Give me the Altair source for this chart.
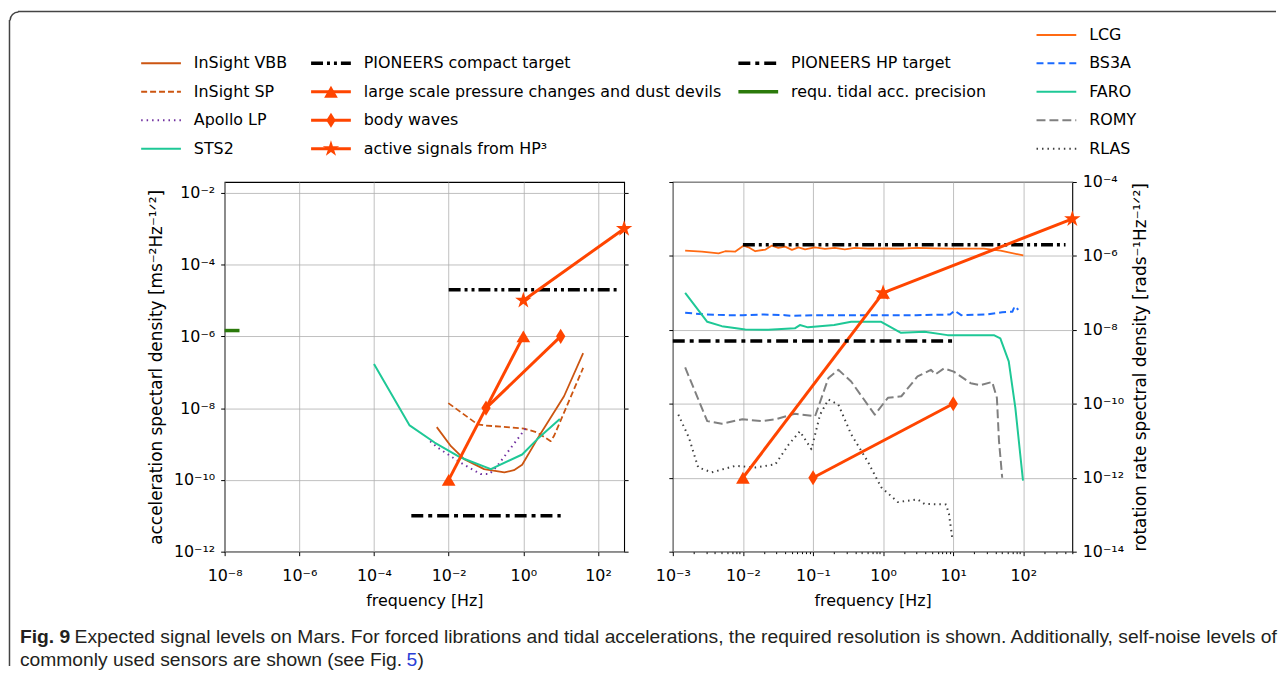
import math
import altair as alt
import pandas as pd

# ---------------- data ----------------
# left panel: acceleration spectral density
VBB_F = [0.0048, 0.0115, 0.026, 0.089, 0.31, 0.56, 0.93, 2.34, 12.3, 40.0]
VBB_A = [2.95e-9, 8.7e-10, 3.8e-10, 2.0e-10, 1.62e-10, 1.86e-10, 2.63e-10, 1.35e-9, 2.14e-8, 3.4e-7]
SP_F = [0.0098, 0.059, 0.089, 1.05, 2.34, 5.4, 6.6, 40.0]
SP_A = [1.38e-8, 3.55e-9, 3.3e-9, 2.7e-9, 2.1e-9, 1.2e-9, 1.66e-9, 1.32e-7]
APOLLO_F = [0.0032, 0.0051, 0.021, 0.072, 0.123, 0.2, 0.69, 1.29]
APOLLO_A = [1.2e-9, 7.9e-10, 3.0e-10, 1.45e-10, 1.45e-10, 2.45e-10, 1.35e-9, 3.2e-9]
STS2_F = [1e-4, 9e-4, 4.2e-3, 0.021, 0.135, 0.93, 2.34, 9.5]
STS2_A = [1.7e-7, 3.3e-9, 1.1e-9, 4.2e-10, 2.0e-10, 5.1e-10, 1.35e-9, 5.0e-9]

PRESSURE_F = [0.01, 1.0]
PRESSURE_A = [1e-10, 1e-6]
PRESSURE_R = [1e-12, 1e-7]
BODY_F = [0.1, 10.0]
BODY_A = [1e-8, 1e-6]
BODY_R = [1e-12, 1e-10]
HP3_F = [1.0, 500.0]
HP3_A = [1e-5, 1e-3]
HP3_R = [1e-7, 1e-5]
COMPACT_F = [0.01, 400.0]
COMPACT_A = [2e-5, 2e-5]
COMPACT_R = [2e-6, 2e-6]
HPT_F = [1e-3, 10.0]
HPT_A = [1e-11, 1e-11]
HPT_R = [5e-9, 5e-9]
TIDAL_F = [1e-8, 2.5e-8]
TIDAL_A = [1.45e-6, 1.45e-6]

# right panel: rotation rate spectral density
LCG_F = [0.0015, 0.0026, 0.0045, 0.0056, 0.0078, 0.0103, 0.012, 0.015, 0.021, 0.026,
         0.032, 0.04, 0.05, 0.062, 0.077, 0.107, 0.148, 0.205, 0.284, 0.394,
         0.607, 1.05, 1.81, 3.1, 5.36, 9.25, 27.4, 47.3, 100.0]
LCG_R = [1.40e-6, 1.31e-6, 1.18e-6, 1.34e-6, 1.31e-6, 1.91e-6, 1.71e-6, 1.34e-6, 1.49e-6, 1.91e-6,
         1.65e-6, 1.79e-6, 1.46e-6, 1.71e-6, 1.51e-6, 1.71e-6, 1.55e-6, 1.65e-6, 1.51e-6, 1.65e-6,
         1.58e-6, 1.61e-6, 1.58e-6, 1.65e-6, 1.61e-6, 1.58e-6, 1.58e-6, 1.40e-6, 1.03e-6]
BS3A_F = [0.0015, 0.003, 0.006, 0.01, 0.02, 0.04, 0.05, 0.1, 0.2, 0.5,
          1.0, 3.0, 9.0, 10.5, 13.0, 30.0, 50.0, 70.0, 75.0, 85.0]
BS3A_R = [2.9e-8, 2.6e-8, 2.5e-8, 2.5e-8, 2.6e-8, 2.5e-8, 2.4e-8, 2.5e-8, 2.5e-8, 2.5e-8,
          2.5e-8, 2.5e-8, 2.6e-8, 3.3e-8, 2.5e-8, 2.6e-8, 3.0e-8, 3.1e-8, 4.3e-8, 3.5e-8]
FARO_F = [0.0015, 0.0031, 0.005, 0.0108, 0.023, 0.055, 0.065, 0.085, 0.2, 0.35,
          0.94, 1.8, 3.9, 8.3, 38.0, 47.0, 62.0, 77.0, 99.0]
FARO_R = [1e-7, 1.65e-8, 1.26e-8, 1.02e-8, 1.0e-8, 1.1e-8, 1.35e-8, 1.17e-8, 1.35e-8, 1.65e-8,
          1.65e-8, 8.3e-9, 8.9e-9, 7.2e-9, 7.2e-9, 5.9e-9, 1.4e-9, 7.8e-11, 8.3e-13]
ROMY_F = [0.0015, 0.0031, 0.005, 0.0098, 0.0186, 0.029, 0.055, 0.107, 0.166, 0.23,
          0.35, 0.76, 1.17, 1.82, 3.1, 4.8, 5.6, 7.4, 10.2, 17.8,
          24.5, 36.0, 42.0, 45.0, 50.0]
ROMY_R = [9.6e-10, 3.4e-11, 2.9e-11, 3.8e-11, 3.4e-11, 3.8e-11, 5.4e-11, 4.6e-11, 5e-10, 8.3e-10,
          4e-10, 5.1e-11, 1.45e-10, 1.6e-10, 5.5e-10, 8.3e-10, 6.3e-10, 9.1e-10, 7.4e-10, 3.6e-10,
          3.2e-10, 3.9e-10, 1.45e-10, 9.8e-12, 1e-12]
RLAS_F = [0.0012, 0.0017, 0.0023, 0.0036, 0.0078, 0.015, 0.029, 0.045, 0.065, 0.095,
          0.126, 0.166, 0.23, 0.35, 0.6, 0.94, 1.62, 3.1, 3.9, 7.9, 8.7, 9.8]
RLAS_R = [5.1e-11, 1.2e-11, 1.9e-12, 1.4e-12, 2.1e-12, 1.9e-12, 2.3e-12, 7.9e-12, 1.8e-11, 5.9e-12,
          5.1e-11, 1.3e-10, 9.5e-11, 1.5e-11, 2.8e-12, 5.5e-13, 2.2e-13, 2.6e-13, 1.95e-13, 1.9e-13,
          1.05e-13, 2e-14]

# axes
X_DOM_L = [1e-8, 500.0]
Y_DOM_L = [1e-12, 2e-2]
X_DOM_R = [1e-3, 500.0]
Y_DOM_R = [1e-14, 1e-4]
X_TICKS_L = [1e-8, 1e-6, 1e-4, 1e-2, 1.0, 100.0]
X_LABELS_L = ["10⁻⁸", "10⁻⁶", "10⁻⁴", "10⁻²", "10⁰", "10²"]
Y_TICKS_L = [1e-12, 1e-10, 1e-8, 1e-6, 1e-4, 1e-2]
Y_LABELS_L = ["10⁻¹²", "10⁻¹⁰", "10⁻⁸", "10⁻⁶", "10⁻⁴", "10⁻²"]
X_TICKS_R = [1e-3, 1e-2, 1e-1, 1.0, 10.0, 100.0]
X_LABELS_R = ["10⁻³", "10⁻²", "10⁻¹", "10⁰", "10¹", "10²"]
Y_TICKS_R = [1e-14, 1e-12, 1e-10, 1e-8, 1e-6, 1e-4]
Y_LABELS_R = ["10⁻¹⁴", "10⁻¹²", "10⁻¹⁰", "10⁻⁸", "10⁻⁶", "10⁻⁴"]
X_MINOR_R = [k * 10.0 ** e for e in range(-3, 3) for k in range(2, 10) if k * 10.0 ** e <= 500]

X_TITLE = "frequency [Hz]"
Y_TITLE_L = "acceleration spectarl density [ms⁻²Hz⁻¹ᐟ²]"
Y_TITLE_R = "rotation rate spectral density [rads⁻¹Hz⁻¹ᐟ²]"

CAP_BOLD = "Fig. 9"
CAP_LINE1 = ("Expected signal levels on Mars. For forced librations and tidal accelerations, "
             "the required resolution is shown. Additionally, self-noise levels of")
CAP_LINE2 = "commonly used sensors are shown (see Fig. "
CAP_LINK = "5"
CAP_END = ")"

# ---------------- styles ----------------
FONT = "DejaVu Sans"
CAP_FONT = "Liberation Sans"
CAP_SIZE = 19.4
C_VBB = "#cc5511"
C_APOLLO = "#7030a0"
C_TEAL = "#1ec896"
C_SIG = "#ff4500"
C_LCG = "#ff6a13"
C_BLUE = "#1a6aff"
C_ROMY = "#808080"
C_RLAS = "#404040"
C_TIDAL = "#2b7a0b"
STAR = "M0,-1L0.2245,-0.309L0.951,-0.309L0.363,0.118L0.588,0.809L0,0.382L-0.588,0.809L-0.363,0.118L-0.951,-0.309L-0.2245,-0.309Z"
THIN_DIAMOND = "M0,-1L0.62,0L0,1L-0.62,0Z"
MARKERS = {"tri": ("triangle-up", 190), "dia": (THIN_DIAMOND, 230), "star": (STAR, 300)}

W, H = 402, 372
SPACING = 49

xsL = alt.Scale(type="log", domain=X_DOM_L, nice=False)
ysL = alt.Scale(type="log", domain=Y_DOM_L, nice=False)
xsR = alt.Scale(type="log", domain=X_DOM_R, nice=False)
ysR = alt.Scale(type="log", domain=Y_DOM_R, nice=False)


def label_expr(ticks, labels):
    expr = "''"
    for t, lab in reversed(list(zip(ticks, labels))):
        expr = f"(abs(log(datum.value)/LN10 - ({round(math.log10(t))})) < 0.01 ? '{lab}' : {expr})"
    return expr


def line(f, v, xs, ys, color, width, dash=None):
    kw = dict(color=color, strokeWidth=width, clip=False, strokeJoin="round")
    if dash:
        kw["strokeDash"] = dash
    return alt.Chart(pd.DataFrame({"f": f, "v": v})).mark_line(**kw).encode(
        x=alt.X("f:Q", scale=xs, axis=None), y=alt.Y("v:Q", scale=ys, axis=None))


def pts(f, v, xs, ys, marker):
    shape, size = MARKERS[marker]
    return alt.Chart(pd.DataFrame({"f": f, "v": v})).mark_point(
        shape=shape, size=size, filled=True, opacity=1, color=C_SIG, clip=False).encode(
        x=alt.X("f:Q", scale=xs, axis=None), y=alt.Y("v:Q", scale=ys, axis=None))


def legend(entries, col_x, row_y):
    """entries: list of (label, col, row, color, width, dash, marker)."""
    layers = []
    for label, col, row, color, width, dash, marker in entries:
        x0 = col_x[col]
        y0 = row_y[row]
        df = pd.DataFrame({"label": [label]})
        kw = dict(color=color, strokeWidth=width)
        if dash:
            kw["strokeDash"] = dash
        layers.append(alt.Chart(df).mark_rule(**kw).encode(
            x=alt.value(x0), x2=alt.value(x0 + 40), y=alt.value(y0)))
        if marker:
            shape, size = MARKERS[marker]
            layers.append(alt.Chart(df).mark_point(shape=shape, size=size, filled=True,
                                                   opacity=1, color=C_SIG).encode(
                x=alt.value(x0 + 20), y=alt.value(y0)))
        layers.append(alt.Chart(df).mark_text(align="left", baseline="middle", font=FONT,
                                              fontSize=16, color="black").encode(
            x=alt.value(x0 + 53), y=alt.value(y0), text="label:N"))
    return layers


X_AXIS_KW = dict(grid=True, title=X_TITLE, titleX=W / 2, titleY=49, titleBaseline="middle",
                 titleAlign="center", labelPadding=12, titleFontSize=16)
Y_AXIS_KW = dict(grid=True, titleAngle=270, titleY=H / 2, titleBaseline="middle",
                 titleAlign="center", titleFontSize=17, labelPadding=6)

# ---------------- left panel ----------------
axis_df_L = pd.DataFrame({"f": [1e-3], "v": [1e-6]})
axL = alt.Chart(axis_df_L).mark_point(opacity=0).encode(
    x=alt.X("f:Q", scale=xsL, axis=alt.Axis(
        orient="bottom", values=X_TICKS_L, labelExpr=label_expr(X_TICKS_L, X_LABELS_L), **X_AXIS_KW)),
    y=alt.Y("v:Q", scale=ysL, axis=alt.Axis(
        orient="left", values=Y_TICKS_L, labelExpr=label_expr(Y_TICKS_L, Y_LABELS_L),
        title=Y_TITLE_L, titleX=-69, **Y_AXIS_KW)))
axL2 = alt.Chart(axis_df_L).mark_point(opacity=0).encode(
    x=alt.X("f:Q", scale=xsL, axis=None),
    y=alt.Y("v:Q", scale=ysL, axis=alt.Axis(orient="right", values=Y_TICKS_L, labels=False,
                                            grid=False, title=None)))

left_layers = [
    axL, axL2,
    line(VBB_F, VBB_A, xsL, ysL, C_VBB, 1.8),
    line(SP_F, SP_A, xsL, ysL, C_VBB, 1.8, [6, 3]),
    line(APOLLO_F, APOLLO_A, xsL, ysL, C_APOLLO, 2, [1.5, 4]),
    line(STS2_F, STS2_A, xsL, ysL, C_TEAL, 2),
    line(COMPACT_F, COMPACT_A, xsL, ysL, "black", 3.5, [12, 4, 3, 4, 3, 4]),
    line(PRESSURE_F, PRESSURE_A, xsL, ysL, C_SIG, 3),
    pts(PRESSURE_F, PRESSURE_A, xsL, ysL, "tri"),
    line(BODY_F, BODY_A, xsL, ysL, C_SIG, 3),
    pts(BODY_F, BODY_A, xsL, ysL, "dia"),
    line(HP3_F, HP3_A, xsL, ysL, C_SIG, 3),
    pts(HP3_F, HP3_A, xsL, ysL, "star"),
    line(HPT_F, HPT_A, xsL, ysL, "black", 3.5, [12, 5, 4, 5]),
    line(TIDAL_F, TIDAL_A, xsL, ysL, C_TIDAL, 3.5),
]

LEG_L_COLS = [-84, 87, 517]
LEG_ROWS = [-148, -119.5, -90.8, -62.1, -33.4]
left_legend = [
    ("InSight VBB", 0, 1, C_VBB, 2, None, None),
    ("InSight SP", 0, 2, C_VBB, 2, [6, 3], None),
    ("Apollo LP", 0, 3, C_APOLLO, 2, [1.5, 4], None),
    ("STS2", 0, 4, C_TEAL, 2, None, None),
    ("PIONEERS compact target", 1, 1, "black", 3.5, [12, 4, 3, 4, 3, 4], None),
    ("large scale pressure changes and dust devils", 1, 2, C_SIG, 3, None, "tri"),
    ("body waves", 1, 3, C_SIG, 3, None, "dia"),
    ("active signals from HP³", 1, 4, C_SIG, 3, None, "star"),
    ("PIONEERS HP target", 2, 1, "black", 3.5, [12, 5, 4, 5], None),
    ("requ. tidal acc. precision", 2, 2, C_TIDAL, 3.5, None, None),
]
left_layers += legend(left_legend, LEG_L_COLS, LEG_ROWS)

# caption and frame (placed relative to the left panel)
one = pd.DataFrame({"t": [CAP_BOLD]})
cap_kw = dict(align="left", baseline="alphabetic", font=CAP_FONT, fontSize=CAP_SIZE, color="#231f20")
left_layers += [
    alt.Chart(pd.DataFrame({"t": [CAP_BOLD]})).mark_text(fontWeight="bold", **cap_kw).encode(
        x=alt.value(-206), y=alt.value(464), text="t:N"),
    alt.Chart(pd.DataFrame({"t": [CAP_LINE1]})).mark_text(**cap_kw).encode(
        x=alt.value(-151), y=alt.value(464), text="t:N"),
    alt.Chart(pd.DataFrame({"t": [CAP_LINE2]})).mark_text(**cap_kw).encode(
        x=alt.value(-206), y=alt.value(487), text="t:N"),
    alt.Chart(pd.DataFrame({"t": [CAP_LINK]})).mark_text(
        **{**cap_kw, "color": "#2b3fd6"}).encode(x=alt.value(183), y=alt.value(487), text="t:N"),
    alt.Chart(pd.DataFrame({"t": [CAP_END]})).mark_text(**cap_kw).encode(
        x=alt.value(194), y=alt.value(487), text="t:N"),
    alt.Chart(one).mark_rule(color="#444444", strokeWidth=1.5).encode(
        x=alt.value(-208), x2=alt.value(1058), y=alt.value(-171.5)),
    alt.Chart(one).mark_rule(color="#444444", strokeWidth=1.5).encode(
        x=alt.value(-216.5), y=alt.value(-163), y2=alt.value(487)),
    alt.Chart(one).mark_arc(color="#444444", radius=9.2, radius2=7.7,
                            theta=4.712, theta2=6.2832).encode(
        x=alt.value(-207.5), y=alt.value(-162.5)),
]

left = alt.layer(*left_layers).resolve_axis(x="independent", y="independent").properties(
    width=W, height=H)

# ---------------- right panel ----------------
axis_df_R = pd.DataFrame({"f": [1.0], "v": [1e-8]})
axR = alt.Chart(axis_df_R).mark_point(opacity=0).encode(
    x=alt.X("f:Q", scale=xsR, axis=alt.Axis(
        orient="bottom", values=X_TICKS_R, labelExpr=label_expr(X_TICKS_R, X_LABELS_R), **X_AXIS_KW)),
    y=alt.Y("v:Q", scale=ysR, axis=alt.Axis(
        orient="right", values=Y_TICKS_R, labelExpr=label_expr(Y_TICKS_R, Y_LABELS_R),
        title=Y_TITLE_R, titleX=69, **Y_AXIS_KW)))
axR2 = alt.Chart(axis_df_R).mark_point(opacity=0).encode(
    x=alt.X("f:Q", scale=xsR, axis=alt.Axis(orient="bottom", values=X_MINOR_R, labels=False,
                                            grid=False, tickSize=2, title=None)),
    y=alt.Y("v:Q", scale=ysR, axis=alt.Axis(orient="left", values=Y_TICKS_R, labels=False,
                                            grid=False, title=None)))

right_layers = [
    axR, axR2,
    line(LCG_F, LCG_R, xsR, ysR, C_LCG, 1.8),
    line(BS3A_F, BS3A_R, xsR, ysR, C_BLUE, 2, [7, 4]),
    line(FARO_F, FARO_R, xsR, ysR, C_TEAL, 2),
    line(ROMY_F, ROMY_R, xsR, ysR, C_ROMY, 2, [9, 4]),
    line(RLAS_F, RLAS_R, xsR, ysR, C_RLAS, 2, [1.5, 4]),
    line(COMPACT_F, COMPACT_R, xsR, ysR, "black", 3.5, [12, 4, 3, 4, 3, 4]),
    line(PRESSURE_F, PRESSURE_R, xsR, ysR, C_SIG, 3),
    pts(PRESSURE_F, PRESSURE_R, xsR, ysR, "tri"),
    line(BODY_F, BODY_R, xsR, ysR, C_SIG, 3),
    pts(BODY_F, BODY_R, xsR, ysR, "dia"),
    line(HP3_F, HP3_R, xsR, ysR, C_SIG, 3),
    pts(HP3_F, HP3_R, xsR, ysR, "star"),
    line(HPT_F, HPT_R, xsR, ysR, "black", 3.5, [12, 5, 4, 5]),
]
LEG_R_COLS = [366]
right_legend = [
    ("LCG", 0, 0, C_LCG, 2, None, None),
    ("BS3A", 0, 1, C_BLUE, 2, [7, 4], None),
    ("FARO", 0, 2, C_TEAL, 2, None, None),
    ("ROMY", 0, 3, C_ROMY, 2, [9, 4], None),
    ("RLAS", 0, 4, C_RLAS, 2, [1.5, 4], None),
]
right_layers += legend(right_legend, LEG_R_COLS, LEG_ROWS)

right = alt.layer(*right_layers).resolve_axis(x="independent", y="independent").properties(
    width=W, height=H)

chart = alt.HConcatChart(hconcat=[left, right], spacing=SPACING, bounds="flush").properties(
    padding=0, background="white"
).configure_view(stroke="black", strokeWidth=1.1).configure_axis(
    labelFont=FONT, labelFontSize=16, labelColor="black",
    titleFont=FONT, titleFontWeight="normal", titleColor="black",
    tickColor="black", tickSize=4, tickWidth=1, domain=False,
    gridColor="#b0b0b0", gridWidth=0.8, labelOverlap=False, labelFlush=False,
)

chart.save("out.html", embed_options={"renderer": "svg", "actions": False})
